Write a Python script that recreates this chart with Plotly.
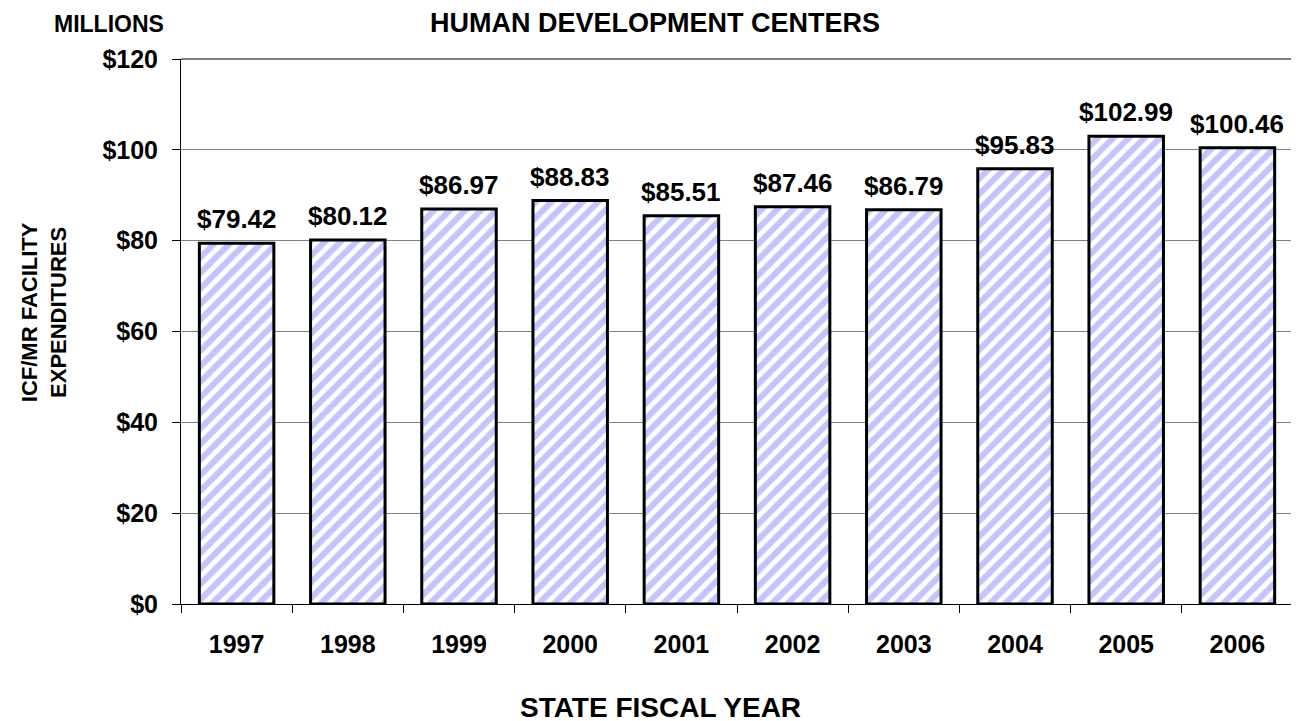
import plotly.graph_objects as go

years = ["1997", "1998", "1999", "2000", "2001", "2002", "2003", "2004", "2005", "2006"]
values = [79.42, 80.12, 86.97, 88.83, 85.51, 87.46, 86.79, 95.83, 102.99, 100.46]
labels = ["$" + f"{v:.2f}" for v in values]
y_ticks = [0, 20, 40, 60, 80, 100, 120]
y_tick_text = ["$" + str(t) for t in y_ticks]

FONT = "Liberation Sans, Arial, sans-serif"

fig = go.Figure()
fig.add_trace(go.Bar(
    x=years, y=values,
    cliponaxis=False,
    marker=dict(
        color="white",
        line=dict(color="black", width=3),
        pattern=dict(shape="/", fgcolor="#8888ff", bgcolor="white", size=11, solidity=0.55),
    ),
    width=0.67,
))

# value labels placed above each bar (category index positions on the x axis)
annotations = [
    dict(x=i, y=v, text="<b>" + lab + "</b>", xref="x", yref="y",
         xanchor="center", yanchor="bottom", yshift=7, showarrow=False,
         font=dict(family=FONT, size=26, color="black"))
    for i, (v, lab) in enumerate(zip(values, labels))
]
annotations += [
    dict(text="<b>HUMAN DEVELOPMENT CENTERS</b>", xref="paper", yref="paper",
         x=0.4263, y=1.066, xanchor="center", yanchor="middle", showarrow=False,
         font=dict(family=FONT, size=27, color="black")),
    dict(text="<b>MILLIONS</b>", xref="paper", yref="paper",
         x=-0.0647, y=1.064, xanchor="center", yanchor="middle", showarrow=False,
         font=dict(family=FONT, size=23, color="black")),
    dict(text="<b>ICF/MR FACILITY<br>EXPENDITURES</b>", xref="paper", yref="paper",
         x=-0.1230, y=0.5358, xanchor="center", yanchor="middle", showarrow=False,
         textangle=-90, font=dict(family=FONT, size=22, color="black")),
    dict(text="<b>STATE FISCAL YEAR</b>", xref="paper", yref="paper",
         x=0.4308, y=-0.189, xanchor="center", yanchor="middle", showarrow=False,
         font=dict(family=FONT, size=28, color="black")),
]

fig.update_layout(
    width=1299, height=721,
    margin=dict(l=173, r=14, t=51, b=125),
    paper_bgcolor="white", plot_bgcolor="white",
    showlegend=False,
    font=dict(family=FONT, color="black"),
    xaxis=dict(
        type="category", categoryorder="array", categoryarray=years,
        range=[-0.5, len(years) - 0.5],
        tickson="boundaries", ticks="outside", ticklen=8, tickcolor="black",
        showline=True, linecolor="black", linewidth=1,
        tickfont=dict(family=FONT, size=25, color="black", weight="bold"),
        ticklabelstandoff=18, showgrid=False,
    ),
    yaxis=dict(
        range=[0, 120], tickvals=y_ticks, ticktext=y_tick_text,
        ticks="outside", ticklen=8, tickcolor="black",
        showline=True, linecolor="black", linewidth=1,
        showgrid=True, gridcolor="#808080", gridwidth=1,
        tickfont=dict(family=FONT, size=25, color="black", weight="bold"),
        ticklabelstandoff=9, zeroline=False,
    ),
    shapes=[
        dict(type="line", xref="paper", yref="paper", x0=0, x1=1, y0=1, y1=1,
             line=dict(color="#808080", width=2)),
        dict(type="line", xref="paper", yref="paper", x0=1, x1=1, y0=0, y1=1,
             line=dict(color="#808080", width=2)),
    ],
    annotations=annotations,
)

fig.write_html("out.html")
